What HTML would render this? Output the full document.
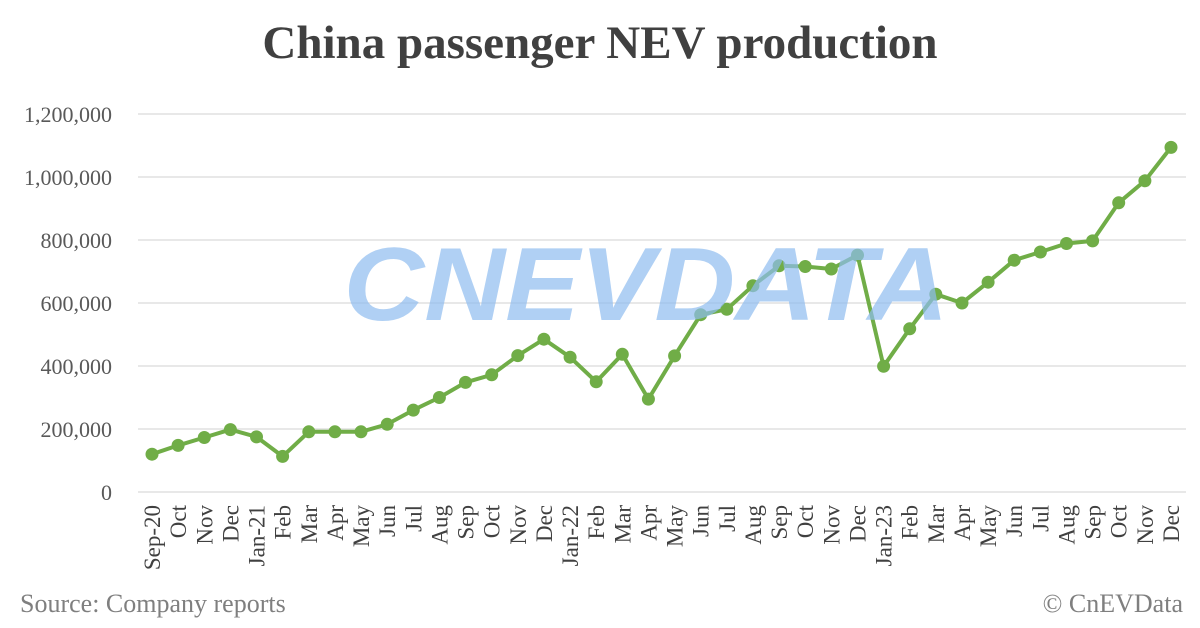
<!DOCTYPE html>
<html><head><meta charset="utf-8"><style>
html,body{margin:0;padding:0;background:#fff;}
svg{display:block;}
</style></head><body>
<svg id="s" width="1200" height="628" xmlns="http://www.w3.org/2000/svg" font-family="Liberation Serif, serif">
<rect width="1200" height="628" fill="#fff"/>
<text x="600" y="58" text-anchor="middle" font-size="47" font-weight="bold" fill="#404040">China passenger NEV production</text>
<g id="grid" stroke="#d9d9d9" stroke-width="1.3"></g>
<g id="ylab" font-size="22" fill="#595959" text-anchor="end"></g>
<g id="xlab" font-size="23" fill="#404040"></g>
<g id="line"></g>
<text x="646" y="320" text-anchor="middle" font-family="Liberation Sans, sans-serif" font-weight="bold" font-style="italic" font-size="104" textLength="605" lengthAdjust="spacingAndGlyphs" fill="#8fbcf0" fill-opacity="0.7">CNEVDATA</text>
<text x="20" y="612" font-size="26" fill="#7f7f7f">Source: Company reports</text>
<text x="1183" y="612" text-anchor="end" font-size="26" fill="#7f7f7f">© CnEVData</text>
</svg>
<script>
var ns="http://www.w3.org/2000/svg";
function el(t,a,p,txt){var e=document.createElementNS(ns,t);for(var k in a)e.setAttribute(k,a[k]);if(txt!=null)e.textContent=txt;document.getElementById(p).appendChild(e);return e;}
var y0=492,py=63/200000;
var yl=["0","200,000","400,000","600,000","800,000","1,000,000","1,200,000"];
for(var i=0;i<7;i++){var y=y0-i*63;el("line",{x1:138,x2:1186,y1:y,y2:y},"grid");el("text",{x:112,y:y+8},"ylab",yl[i]);}
var labs=["Sep-20","Oct","Nov","Dec","Jan-21","Feb","Mar","Apr","May","Jun","Jul","Aug","Sep","Oct","Nov","Dec","Jan-22","Feb","Mar","Apr","May","Jun","Jul","Aug","Sep","Oct","Nov","Dec","Jan-23","Feb","Mar","Apr","May","Jun","Jul","Aug","Sep","Oct","Nov","Dec"];
var d=[120,148,173,198,175,113,191,191,191,215,260,300,348,372,433,485,428,350,437,295,432,563,580,655,718,716,708,752,399,518,628,600,666,736,762,789,797,918,988,1094];
var x0=152,dx=(1171-152)/39,pts=[];
for(var i=0;i<40;i++){var x=x0+i*dx,y=y0-d[i]*1000*py;pts.push(x.toFixed(1)+","+y.toFixed(1));
el("text",{x:0,y:0,transform:"translate("+(x+8)+",505) rotate(-90)","text-anchor":"end"},"xlab",labs[i]);}
el("polyline",{points:pts.join(" "),fill:"none",stroke:"#70ad47","stroke-width":4,"stroke-linejoin":"round"},"line");
for(var i=0;i<40;i++){var p=pts[i].split(",");el("circle",{cx:p[0],cy:p[1],r:6.5,fill:"#70ad47"},"line");}
</script>
</body></html>
